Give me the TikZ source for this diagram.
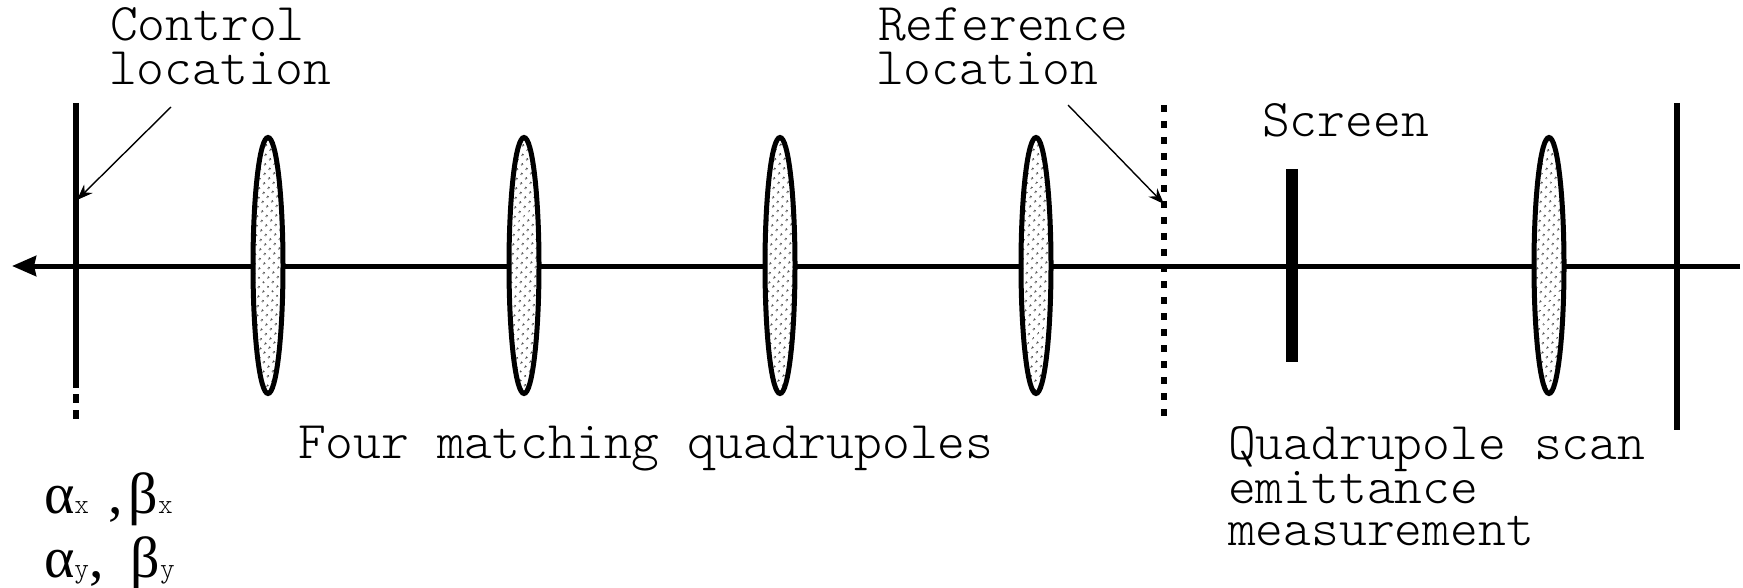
\documentclass[tikz,border=0pt]{standalone}
\usepackage{fontspec}
\setmonofont{Latin Modern Mono Light}
\newfontfamily\grk{Liberation Serif}
\usetikzlibrary{patterns.meta,arrows.meta}
\tikzset{
  lbl/.style={anchor=base west,inner sep=0pt,outer sep=0pt,font=\fontsize{53}{53}\selectfont\ttfamily},
  grklbl/.style={anchor=base west,inner sep=0pt,outer sep=0pt,font=\fontsize{58}{58}\selectfont\grk},
  lens/.style={draw=black,line width=5pt,
    preaction={fill=white},
    pattern={Dots[distance=6.5pt,angle=45,radius=1.2pt]},pattern color=black!80},
  axisline/.style={line width=5pt,black},
  solidbar/.style={line width=6pt,black},
  dotbar/.style={line width=6pt,black,dash pattern=on 7pt off 9pt},
  screenbar/.style={line width=12pt,black},
  pointer/.style={line width=1.4pt,black,-{Stealth[length=16pt,width=12pt]}},
}
\newcommand{\subsc}[1]{{\fontsize{28}{28}\selectfont\ttfamily #1}}
\newcommand{\lensat}[2]{\fill[lens] (#2,265.5) ellipse [x radius=15,y radius=128];\coordinate (#1) at (#2,265.5);}
\begin{document}
\begin{tikzpicture}[x=1pt,y=-1pt]
\useasboundingbox (0,0) rectangle (1743,588);
% free ends
\coordinate (axR) at (1740,266);
\coordinate (axL) at (12,266);
\coordinate (cT) at (76,103);
\coordinate (cB) at (76,388);
\coordinate (cD) at (76,394);
\coordinate (cE) at (76,419);
\coordinate (rT) at (1164,105);
\coordinate (rB) at (1164,419);
\coordinate (sT) at (1292,169);
\coordinate (sB) at (1292,362);
\coordinate (eT) at (1677,103);
\coordinate (eB) at (1677,430);
\coordinate (cpS) at (171,107);
\coordinate (cpE) at (77,200);
\coordinate (rpS) at (1068,105);
\coordinate (rpE) at (1164,204);
% beam axis
\draw[axisline,-{Stealth[length=24pt,width=20pt,inset=2pt]}] (axR) -- (axL);
% vertical markers
\draw[solidbar] (cT) -- (cB);
\draw[solidbar,dash pattern=on 9pt off 7pt] (cD) -- (cE);
\draw[dotbar] (rT) -- (rB);
\draw[screenbar] (sT) -- (sB);
\draw[solidbar] (eT) -- (eB);
% quadrupoles
\lensat{q1}{268}
\lensat{q2}{524}
\lensat{q3}{780}
\lensat{q4}{1036}
\lensat{q5}{1549}
% pointers
\draw[pointer] (cpS) -- (cpE);
\draw[pointer] (rpS) -- (rpE);
% labels
\node[lbl] (t1) at (110,41) {Control};
\node[lbl] (t2) at (109,85) {location};
\node[lbl] (t3) at (878,41) {Reference};
\node[lbl] (t4) at (876,85) {location};
\node[lbl] (t5) at (1262,137) {Screen};
\node[lbl] (t6) at (298,458) {Four matching quadrupoles};
\node[lbl] (t7) at (1228,459) {Quadrupole scan};
\node[lbl] (t8) at (1228,503) {emittance};
\node[lbl] (t9) at (1228,545) {measurement};
\node[grklbl] (g1) at (44,513) {α\subsc{x}\hspace{19pt},\hspace{6pt}β\subsc{x}};
\node[grklbl] (g2) at (44,577) {α\subsc{y},\hspace{27pt}β\subsc{y}};
\end{tikzpicture}
\end{document}
